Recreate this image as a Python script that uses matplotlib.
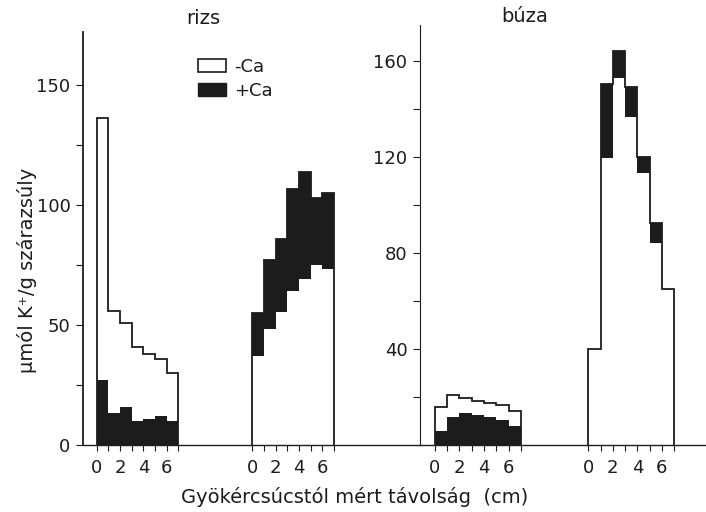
import numpy as np
import matplotlib.pyplot as plt
from matplotlib.patches import Patch

# K+ content (umol/g dry weight) per 1 cm root segment
segments_cm = np.arange(0, 8)

rizs_a_minus_ca = [136, 56, 51, 41, 38, 36, 30]
rizs_a_plus_ca = [27, 13.5, 16, 10, 11, 12, 10]
rizs_b_minus_ca = [37, 48.5, 55.5, 64, 69, 75, 73.5]
rizs_b_plus_ca = [55, 77, 86, 106.5, 113.5, 103, 105]

buza_a_minus_ca = [16, 21, 19.5, 18.5, 17.5, 16.5, 14]
buza_a_plus_ca = [6, 11.5, 13.5, 12.5, 11.5, 10.5, 8]
buza_b_minus_ca = [40, 119.5, 153, 136.5, 113.5, 84, 65]
buza_b_plus_ca = [40, 150.5, 164, 149, 120, 92.5, 65]

tick_labels = ["0", "", "2", "", "4", "", "6", ""]

INK = "#1c1c1c"
plt.rcParams["font.family"] = ["DejaVu Sans"]
plt.rcParams["text.color"] = INK


def draw_group(ax, offset, minus, plus):
    edges = offset + segments_cm
    w = np.array(minus, dtype=float)
    b = np.array(plus, dtype=float)
    # black part: from 0 where +Ca is lower, from the -Ca top where +Ca is higher
    black_base = np.where(b >= w, w, 0)
    ax.stairs(b, edges, baseline=black_base, fill=True, color=INK, lw=0)
    ax.stairs(np.maximum(w, b), edges, baseline=0, color=INK, lw=1.3)


def style_axes(ax, offsets, yticks, yminor, ylim, xlim, spine_lw):
    ax.set_xlim(*xlim)
    ax.set_ylim(*ylim)
    for s in ["top", "right"]:
        ax.spines[s].set_visible(False)
    ax.spines["left"].set_linewidth(spine_lw)
    ax.spines["bottom"].set_linewidth(1.0)
    ax.spines["left"].set_color(INK)
    ax.spines["bottom"].set_color(INK)
    xt = np.concatenate([o + segments_cm for o in offsets])
    ax.set_xticks(xt)
    ax.set_xticklabels(tick_labels * len(offsets))
    ax.set_yticks(yticks)
    ax.set_yticks(yminor, minor=True)
    ax.tick_params(axis="x", length=4, width=0.8, pad=6, labelsize=13, colors=INK)
    ax.tick_params(axis="y", which="both", length=5, width=0.8, pad=4, labelsize=13, colors=INK)


fig = plt.figure(figsize=(7.06, 5.12), dpi=100)

# rizs panel
ax1 = fig.add_axes([83 / 706, 67 / 512, 337 / 706, 413 / 512])
rizs_offsets = [0, 13.33]
draw_group(ax1, rizs_offsets[0], rizs_a_minus_ca, rizs_a_plus_ca)
draw_group(ax1, rizs_offsets[1], rizs_b_minus_ca, rizs_b_plus_ca)
style_axes(ax1, rizs_offsets, [0, 50, 100, 150], [25, 75, 125],
           (0, 172), (-1.17, 27.7), 1.3)

handles = [Patch(facecolor="white", edgecolor=INK, lw=1.2),
           Patch(facecolor=INK, edgecolor=INK)]
ax1.legend(handles, ["-Ca", "+Ca"], loc="upper left", bbox_to_anchor=(0.34, 0.938),
           frameon=False, fontsize=13, handlelength=1.6, handleheight=0.75,
           handletextpad=0.4, labelspacing=0.35, borderpad=0, borderaxespad=0)

# buza panel
ax2 = fig.add_axes([420 / 706, 67 / 512, 286 / 706, 420 / 512])
buza_offsets = [0, 12.5]
draw_group(ax2, buza_offsets[0], buza_a_minus_ca, buza_a_plus_ca)
draw_group(ax2, buza_offsets[1], buza_b_minus_ca, buza_b_plus_ca)
style_axes(ax2, buza_offsets, [40, 80, 120, 160], [20, 60, 100, 140],
           (0, 175), (-1.22, 22.1), 0.8)

fig.text(203 / 706, 1 - 18 / 512, "rizs", ha="center", va="center", fontsize=14)
fig.text(525 / 706, 1 - 17 / 512, "búza", ha="center", va="center", fontsize=14)
fig.text(355 / 706, 1 - 497 / 512, "Gyökércsúcstól mért távolság  (cm)",
         ha="center", va="center", fontsize=14)
fig.text(27 / 706, 1 - 270 / 512, "μmól K⁺/g szárazsúly", rotation=90,
         ha="center", va="center", fontsize=14)

fig.savefig("out.png", dpi=100, facecolor="white")
plt.close(fig)
